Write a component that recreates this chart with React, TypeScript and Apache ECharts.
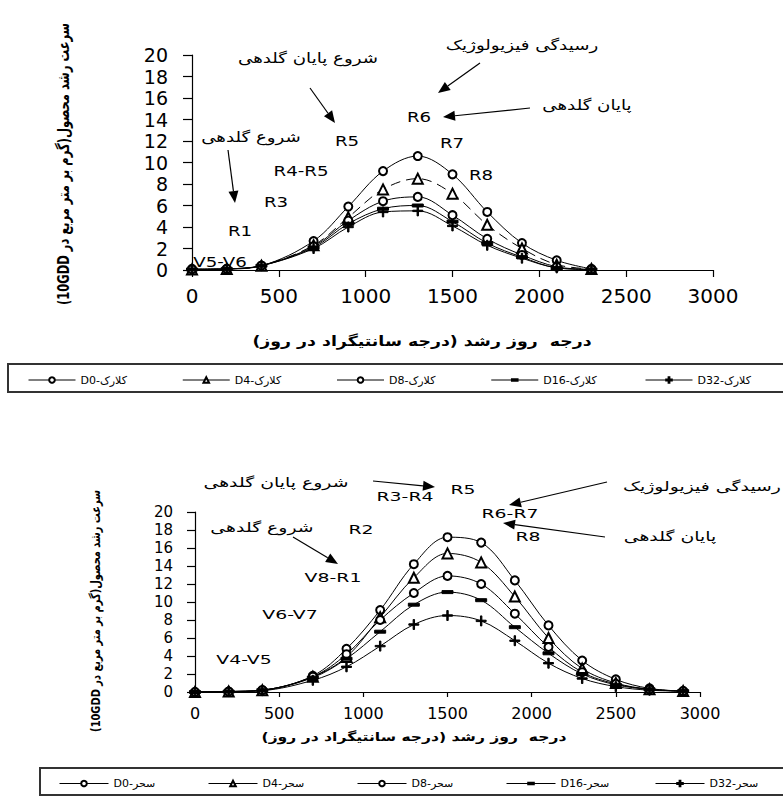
import React, { useEffect, useRef } from "react";
import * as echarts from "echarts";

// ---------- data ----------
const xTop = [0, 200, 400, 700, 900, 1100, 1300, 1500, 1700, 1900, 2100, 2300];
const topD0 = [0.1, 0.1, 0.4, 2.7, 5.9, 9.2, 10.6, 8.9, 5.4, 2.5, 0.9, 0.1];
const topD4 = [0.05, 0.1, 0.4, 2.3, 4.9, 7.5, 8.5, 7.1, 4.2, 2.0, 0.5, 0.1];
const topD8 = [0.05, 0.1, 0.4, 2.2, 4.6, 6.4, 6.8, 5.1, 2.9, 1.4, 0.3, 0.05];
const topD16 = [0.05, 0.1, 0.4, 2.1, 4.3, 5.7, 6.0, 4.5, 2.5, 1.2, 0.2, 0.05];
const topD32 = [0.05, 0.1, 0.4, 2.0, 4.0, 5.4, 5.5, 4.1, 2.3, 1.1, 0.2, 0.05];

const xBot = [0, 200, 400, 700, 900, 1100, 1300, 1500, 1700, 1900, 2100, 2300, 2500, 2700, 2900];
const botD0 = [0, 0.05, 0.2, 1.8, 4.8, 9.1, 14.2, 17.2, 16.6, 12.4, 7.4, 3.5, 1.4, 0.4, 0.1];
const botD4 = [0, 0.05, 0.2, 1.7, 3.9, 8.3, 12.7, 15.4, 14.4, 10.6, 6.0, 2.6, 1.0, 0.3, 0.1];
const botD8 = [0, 0.05, 0.2, 1.7, 4.2, 8.0, 11.0, 12.9, 12.0, 8.7, 5.0, 2.2, 0.9, 0.3, 0.1];
const botD16 = [0, 0.05, 0.2, 1.6, 3.7, 6.7, 9.7, 11.1, 10.2, 7.2, 4.3, 2.0, 0.8, 0.3, 0.1];
const botD32 = [0, 0.05, 0.15, 1.3, 2.8, 5.1, 7.5, 8.5, 7.9, 5.7, 3.2, 1.5, 0.6, 0.2, 0.1];

const treatments = ["D0", "D4", "D8", "D16", "D32"];
const topCultivar = "کلارک";
const botCultivar = "سحر";
const topValues = [topD0, topD4, topD8, topD16, topD32];
const botValues = [botD0, botD4, botD8, botD16, botD32];

const xMin = 0;
const xMax = 3000;
const xInterval = 500;
const yMin = 0;
const yMax = 20;
const yInterval = 2;

const yTitle = "(10GDD سرعت رشد محصول(گرم بر متر مربع در";
const xTitle = "درجه  روز رشد (درجه سانتیگراد در روز)\u200F";

const FONT = "DejaVu Sans";

const symbolFor: Record<string, { symbol: string; size: any }> = {
  D0: { symbol: "emptyCircle", size: 8 },
  D4: { symbol: "emptyTriangle", size: 10 },
  D8: { symbol: "emptyCircle", size: 8 },
  D16: { symbol: "path://M0,0M11,11M0,4H11V7H0Z", size: 11 },
  D32: { symbol: "path://M4.3,0H5.7V10H4.3ZM0,4.3H10V5.7H0Z", size: 10 },
};

function makeSeries(name: string, key: string, xs: number[], ys: number[], idx: number, dashed: boolean) {
  const s = symbolFor[key];
  return {
    type: "line",
    name,
    xAxisIndex: idx,
    yAxisIndex: idx,
    data: xs.map((x, i) => [x, ys[i]]),
    smooth: 0.35,
    symbol: s.symbol,
    symbolSize: s.size,
    showSymbol: true,
    lineStyle: { color: "#000", width: 1, type: dashed ? [10, 6] : "solid" },
    itemStyle: { color: "#000", borderColor: "#000", borderWidth: 1 },
    emphasis: { disabled: true },
  };
}

function arrow(x1: number, y1: number, x2: number, y2: number, head = 12, hw = 5) {
  const dx = x2 - x1;
  const dy = y2 - y1;
  const L = Math.hypot(dx, dy);
  const ux = dx / L;
  const uy = dy / L;
  const bx = x2 - ux * head;
  const by = y2 - uy * head;
  const px = -uy;
  const py = ux;
  return [
    { type: "line", shape: { x1, y1, x2: bx, y2: by }, style: { stroke: "#000", lineWidth: 1.2 } },
    {
      type: "polygon",
      shape: { points: [[x2, y2], [bx + px * hw, by + py * hw], [bx - px * hw, by - py * hw]] },
      style: { fill: "#000" },
    },
  ];
}

function label(text: string, x: number, y: number, fontSize: number, extra: any = {}) {
  return {
    type: "text",
    x,
    y,
    rotation: extra.rotation || 0,
    scaleX: extra.sx || 1,
    scaleY: extra.sy || 1,
    style: {
      text,
      fontSize,
      fontFamily: FONT,
      fontWeight: extra.bold ? "bold" : "normal",
      fill: "#000",
      align: "center",
      verticalAlign: "middle",
    },
  };
}

function legendItems(names: string[], startX: number, step: number, top: number, itemWidth: number) {
  return names.map((n, i) => ({
    data: [n],
    left: startX + i * step,
    top,
    orient: "horizontal",
    itemWidth,
    itemHeight: 7,
    itemGap: 5,
    padding: 0,
    selectedMode: false,
    lineStyle: { width: 1, type: "solid", color: "#000" },
    textStyle: { fontSize: 11, fontFamily: FONT, color: "#000", padding: [0, 0, 0, 0] },
  }));
}

export default function App() {
  const ref = useRef<HTMLDivElement>(null);
  useEffect(() => {
    if (!ref.current) return;
    const chart = echarts.init(ref.current, null, { renderer: "svg" });

    const series: any[] = [];
    treatments.forEach((k, i) => {
      series.push(makeSeries(`${k}-${topCultivar}`, k, xTop, topValues[i], 0, k === "D4"));
    });
    treatments.forEach((k, i) => {
      series.push(makeSeries(`${k}-${botCultivar}`, k, xBot, botValues[i], 1, false));
    });

    const axisLine = { show: true, lineStyle: { color: "#000", width: 1.2 } };
    const fmt = (v: number) => String(v);

    const T = { sx: 1.3 };
    const B = { sx: 1.45 };

    const graphic: any[] = [
      // legend boxes
      {
        type: "rect",
        shape: { x: 8, y: 364, width: 800, height: 28 },
        style: { fill: "none", stroke: "#333", lineWidth: 2 },
      },
      {
        type: "rect",
        shape: { x: 40, y: 768, width: 780, height: 27 },
        style: { fill: "none", stroke: "#333", lineWidth: 2 },
      },
      // top chart titles
      label(yTitle, 63, 164, 16, { bold: true, rotation: Math.PI / 2, sx: 0.72 }),
      label(xTitle, 422, 341, 14, { bold: true, sx: 1.24 }),
      // top annotations
      label("شروع پایان گلدهی", 308, 58, 14, T),
      ...arrow(310, 88, 335, 123),
      label("شروع گلدهی", 251, 137, 14, T),
      ...arrow(228, 150, 235, 203),
      label("R5", 347, 141, 14, T),
      label("R4-R5", 301, 171, 14, T),
      label("R3", 276, 202, 14, T),
      label("R1", 240, 231, 14, T),
      label("V5-V6", 220, 262, 14, T),
      label("رسیدگی فیزیولوژیک", 522, 45, 14, T),
      ...arrow(480, 63, 438, 93),
      label("R6", 419, 117, 14, T),
      label("پایان گلدهی", 587, 105, 14, T),
      ...arrow(530, 108, 443, 117),
      label("R7", 452, 143, 14, T),
      label("R8", 481, 175, 14, T),

      // bottom chart titles
      label(yTitle, 95, 611, 13, { bold: true, rotation: Math.PI / 2, sx: 0.76 }),
      label(xTitle, 414, 737, 12, { bold: true, sx: 1.3 }),
      // bottom annotations
      label("شروع پایان گلدهی", 276, 483, 13, B),
      ...arrow(373, 481, 435, 487),
      label("R3-R4", 405, 497, 13, B),
      label("R5", 463, 490, 13, B),
      label("شروع گلدهی", 262, 528, 13, B),
      ...arrow(293, 537, 338, 564),
      label("R2", 361, 530, 13, B),
      label("V8-R1", 333, 578, 13, B),
      label("V6-V7", 290, 615, 13, B),
      label("V4-V5", 244, 660, 13, B),
      label("رسیدگی فیزیولوژیک", 702, 487, 13, B),
      ...arrow(607, 482, 509, 505),
      label("R6-R7", 510, 514, 13, B),
      label("پایان گلدهی", 670, 537, 13, B),
      ...arrow(605, 537, 503, 523),
      label("R8", 528, 537, 13, B),
    ];

    chart.setOption({
      animation: false,
      backgroundColor: "#fff",
      textStyle: { fontFamily: FONT, color: "#000" },
      grid: [
        { left: 192, right: 70, top: 55, bottom: 533, containLabel: false },
        { left: 195, right: 83, top: 512, bottom: 111, containLabel: false },
      ],
      xAxis: [
        {
          type: "value",
          gridIndex: 0,
          min: xMin,
          max: xMax,
          interval: xInterval,
          axisLine,
          axisTick: { show: true, length: 7, lineStyle: { color: "#000", width: 1.2 } },
          axisLabel: { fontSize: 20, margin: 16, color: "#000", fontFamily: FONT, formatter: fmt },
          splitLine: { show: false },
        },
        {
          type: "value",
          gridIndex: 1,
          min: xMin,
          max: xMax,
          interval: xInterval,
          axisLine,
          axisTick: { show: true, length: 5, lineStyle: { color: "#000", width: 1.2 } },
          axisLabel: { fontSize: 16, margin: 13, color: "#000", fontFamily: FONT, formatter: fmt },
          splitLine: { show: false },
        },
      ],
      yAxis: [
        {
          type: "value",
          gridIndex: 0,
          min: yMin,
          max: yMax,
          interval: yInterval,
          axisLine,
          axisTick: { show: true, length: 9, lineStyle: { color: "#000", width: 1.2 } },
          axisLabel: { fontSize: 19, margin: 24, color: "#000", fontFamily: FONT, formatter: fmt },
          splitLine: { show: false },
        },
        {
          type: "value",
          gridIndex: 1,
          min: yMin,
          max: yMax,
          interval: yInterval,
          axisLine,
          axisTick: { show: true, length: 8, lineStyle: { color: "#000", width: 1.2 } },
          axisLabel: { fontSize: 15, margin: 22, color: "#000", fontFamily: FONT, formatter: fmt },
          splitLine: { show: false },
        },
      ],
      legend: [
        ...legendItems(treatments.map((k) => `${k}-${topCultivar}`), 28, 154.25, 374.5, 47),
        ...legendItems(treatments.map((k) => `${k}-${botCultivar}`), 59, 149, 778, 49),
      ],
      series,
      graphic,
    });

    return () => {
      chart.dispose();
    };
  }, []);

  return (
    <div
      ref={ref}
      style={{ position: "absolute", left: 0, top: 0, width: 783, height: 803, background: "#fff" }}
    />
  );
}
